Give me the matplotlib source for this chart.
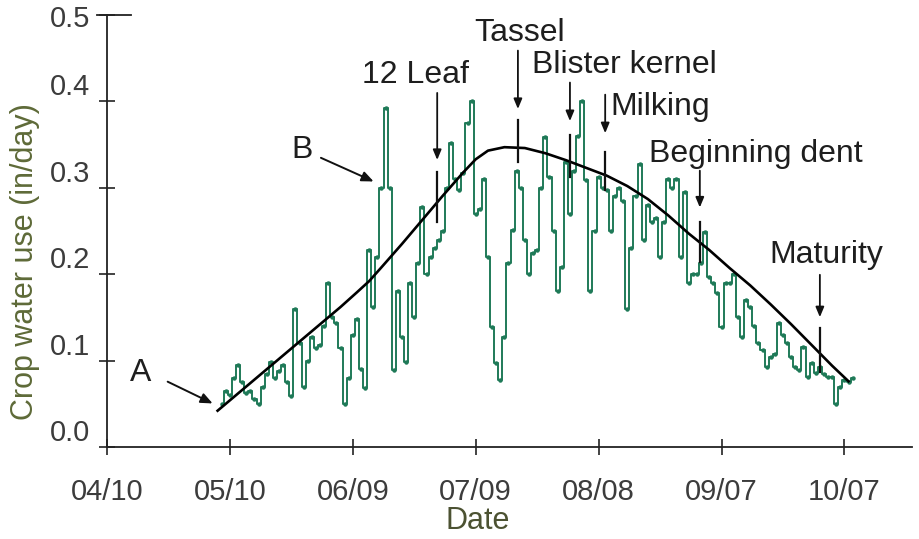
import numpy as np
import matplotlib
matplotlib.use("Agg")
import matplotlib.pyplot as plt
import matplotlib.transforms as mtransforms
from matplotlib import font_manager

# ---- data ----
start_day = 28  # days after 04/10
daily_use = [
    0.05, 0.065, 0.06, 0.08, 0.095, 0.075, 0.062, 0.065, 0.055, 0.05,
    0.07, 0.085, 0.098, 0.08, 0.088, 0.095, 0.075, 0.059, 0.16, 0.12,
    0.07, 0.1, 0.127, 0.115, 0.118, 0.14, 0.19, 0.15, 0.143, 0.115,
    0.05, 0.08, 0.13, 0.148, 0.09, 0.068, 0.228, 0.162, 0.22, 0.30,
    0.392, 0.30, 0.089, 0.18, 0.127, 0.098, 0.19, 0.15, 0.213, 0.278,
    0.2, 0.22, 0.23, 0.24, 0.25, 0.30, 0.352, 0.31, 0.297, 0.317,
    0.375, 0.40, 0.27, 0.275, 0.31, 0.22, 0.139, 0.097, 0.078, 0.127,
    0.213, 0.251, 0.32, 0.30, 0.24, 0.20, 0.225, 0.228, 0.30, 0.359,
    0.313, 0.25, 0.18, 0.208, 0.33, 0.27, 0.32, 0.36, 0.40, 0.309,
    0.18, 0.25, 0.313, 0.30, 0.297, 0.25, 0.29, 0.30, 0.285, 0.16,
    0.23, 0.29, 0.328, 0.24, 0.28, 0.26, 0.265, 0.22, 0.26, 0.31,
    0.30, 0.31, 0.22, 0.295, 0.19, 0.2, 0.2, 0.213, 0.249, 0.197,
    0.19, 0.178, 0.139, 0.19, 0.19, 0.2, 0.15, 0.127, 0.17, 0.162,
    0.14, 0.12, 0.112, 0.093, 0.104, 0.108, 0.143, 0.13, 0.12, 0.104,
    0.093, 0.089, 0.116, 0.081, 0.097, 0.086, 0.093, 0.085, 0.081, 0.081,
    0.05, 0.07, 0.078, 0.075, 0.08,
]
daily_days = np.arange(start_day, start_day + len(daily_use))

curve_days = [27, 32, 37, 42, 47, 52, 57, 61, 64, 67, 72, 77, 82, 87, 90, 93,
              97, 102, 107, 112, 117, 122, 127, 132, 137, 142, 147, 152, 157,
              162, 167, 172, 177, 181]
curve_vals = [0.042, 0.062, 0.082, 0.102, 0.122, 0.142, 0.162, 0.179, 0.192,
              0.208, 0.235, 0.263, 0.291, 0.318, 0.333, 0.343, 0.347, 0.346,
              0.340, 0.332, 0.323, 0.314, 0.302, 0.287, 0.268, 0.247, 0.228,
              0.207, 0.187, 0.165, 0.142, 0.118, 0.094, 0.076]

tick_days = [0, 30, 60, 90, 120, 150, 180]
tick_labels = ["04/10", "05/10", "06/09", "07/09", "08/08", "09/07", "10/07"]
y_ticks = [0.0, 0.1, 0.2, 0.3, 0.4, 0.5]

# stage annotations: label, text x, text y, arrow x, arrow top, arrow head, seg top, seg bottom
stages = [
    ("12 Leaf", 75.2, 0.430, 80.6, 0.413, 0.329, 0.318, 0.260),
    ("Tassel", 100.6, 0.479, 100.3, 0.462, 0.388, 0.378, 0.330),
    ("Blister kernel", 126.4, 0.442, 113.0, 0.425, 0.374, 0.361, 0.312),
    ("Milking", 122.8, 0.394, 121.6, 0.411, 0.360, 0.341, 0.297),
    ("Beginning dent", 158.4, 0.339, 144.7, 0.323, 0.274, 0.260, 0.214),
    ("Maturity", 175.5, 0.222, 174.0, 0.2025, 0.147, 0.138, 0.087),
]

# ---- fonts ----
avail = {f.name for f in font_manager.fontManager.ttflist}
main_font = "Liberation Sans" if "Liberation Sans" in avail else "DejaVu Sans"
plt.rcParams["font.family"] = [main_font, "DejaVu Sans"]

fig = plt.figure(figsize=(9.19, 5.39), dpi=100)
ax = fig.add_axes([0.1164, 0.1707, 0.8756, 0.8015])

green = "#1f7a58"
ax.plot(daily_days, daily_use, color=green, lw=1.4, drawstyle="steps-mid",
        marker="o", markersize=2.2, zorder=2)
ax.plot(curve_days, curve_vals, color="black", lw=1.9, zorder=3)

ax.set_xlim(0, 196.4)
ax.set_ylim(0, 0.5)
ax.set_xticks(tick_days)
ax.set_xticklabels(tick_labels)
ax.set_yticks(y_ticks)
ax.set_yticklabels([f"{v:.1f}" for v in y_ticks])

for s in ("top", "right"):
    ax.spines[s].set_visible(False)
for s in ("left", "bottom"):
    ax.spines[s].set_linewidth(1.3)
    ax.spines[s].set_color("#222222")
# short cap line at the top of the y axis
ax.plot([-0.012, 0.03], [1, 1], transform=ax.transAxes, color="#222222",
        lw=1.3, clip_on=False)

ax.tick_params(axis="both", direction="inout", length=12, width=1.2, color="#222222")
ax.tick_params(axis="x", pad=16)
ax.tick_params(axis="y", pad=6)
for lab in ax.get_xticklabels() + ax.get_yticklabels():
    lab.set_fontsize(21)
    lab.set_color("#3c3c3c")
ylabs = ax.get_yticklabels()
for lab in ylabs[:-1]:
    lab.set_va("bottom")
ylabs[-1].set_va("center")
ylabs[-1].set_transform(ylabs[-1].get_transform() +
                        mtransforms.ScaledTranslation(0, -4 / 100, fig.dpi_scale_trans))

ax.set_ylabel("Crop water use (in/day)", fontsize=22, color="#5e6a38")
ax.set_xlabel("Date", fontsize=22, color="#4c5232", va="bottom")
ax.yaxis.set_label_coords(-0.083, 0.43)
ax.xaxis.set_label_coords(0.461, -0.206)

txt_kw = dict(fontsize=23, color="#1e1e1e", ha="center", va="center")

# A and B
ax.annotate("", xy=(26.4, 0.049), xytext=(14.2, 0.077),
            arrowprops=dict(arrowstyle="-|>,head_length=0.7,head_width=0.3",
                            color="#111111", lw=1.4))
ax.text(8.1, 0.0857, "A", **txt_kw)
ax.annotate("", xy=(65.7, 0.306), xytext=(51.6, 0.336),
            arrowprops=dict(arrowstyle="-|>,head_length=0.7,head_width=0.3",
                            color="#111111", lw=1.4))
ax.text(47.7, 0.344, "B", **txt_kw)

for name, tx, ty, axx, atop, ahead, stop, sbot in stages:
    kw = dict(txt_kw)
    if name == "Milking":
        kw["ha"] = "left"
    ax.text(tx, ty, name, **kw)
    ax.annotate("", xy=(axx, ahead), xytext=(axx, atop),
                arrowprops=dict(arrowstyle="-|>,head_length=0.6,head_width=0.25",
                                color="#111111", lw=1.3))
    ax.plot([axx, axx], [stop, sbot], color="#111111", lw=1.6, zorder=4)

fig.savefig("out.png", dpi=100)
